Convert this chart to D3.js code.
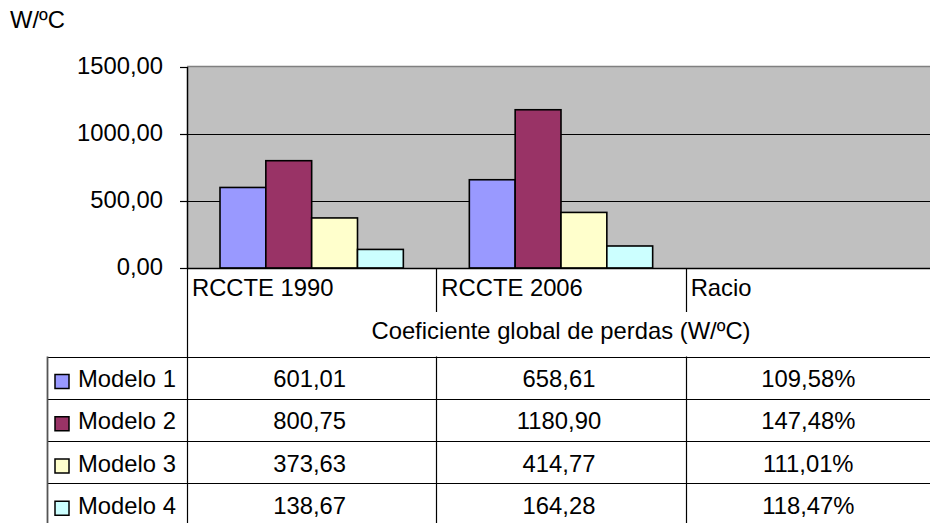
<!DOCTYPE html>
<html>
<head>
<meta charset="utf-8">
<script src="https://cdn.jsdelivr.net/npm/d3@7"></script>
<style>
  body { margin: 0; background: #fff; }
  svg { display: block; font-family: "Liberation Sans", Arial, sans-serif; }
</style>
</head>
<body>
<svg id="chart"></svg>
<script>
// chart data
const categories = ["RCCTE 1990", "RCCTE 2006", "Racio"];
const seriesNames = ["Modelo 1", "Modelo 2", "Modelo 3", "Modelo 4"];
const values1990 = [601.01, 800.75, 373.63, 138.67];
const values2006 = [658.61, 1180.90, 414.77, 164.28];
const ratios = [109.58, 147.48, 111.01, 118.47];
const seriesColors = ["#9999FF", "#993366", "#FFFFCC", "#CCFFFF"];
const yTicks = [0, 500, 1000, 1500];
const unitLabel = "W/ºC";
const tableTitle = "Coeficiente global de perdas (W/ºC)";

const width = 930, height = 523;
const plotLeft = 187, plotRight = 935, plotTop = 67, plotBottom = 268;
const fontSize = 23.8;

const locale = d3.formatLocale({ decimal: ",", thousands: "", grouping: [3], currency: ["", "€"] });
const fmt = locale.format(".2f");

const svg = d3.select("#chart")
  .attr("width", width)
  .attr("height", height)
  .style("font-size", fontSize + "px");

// scales
const x = d3.scaleBand().domain(categories).range([plotLeft, plotRight]);
const xs = d3.scaleBand().domain(seriesNames).range([0, x.bandwidth()]).paddingOuter(0.72);
const y = d3.scaleLinear().domain([0, 1500]).range([plotBottom, plotTop]);
const rows = d3.scaleBand().domain(seriesNames).range([357.5, 526.5]);

// plot area
svg.append("rect")
  .attr("x", plotLeft).attr("y", plotTop)
  .attr("width", plotRight - plotLeft).attr("height", plotBottom - plotTop)
  .attr("fill", "#C0C0C0");
svg.append("line")
  .attr("x1", plotLeft).attr("x2", plotRight)
  .attr("y1", y(1500) - 0.5).attr("y2", y(1500) - 0.5)
  .attr("stroke", "#808080").attr("stroke-width", 1.5);

// gridlines
svg.append("g")
  .selectAll("line")
  .data([500, 1000])
  .join("line")
  .attr("x1", plotLeft).attr("x2", plotRight)
  .attr("y1", d => Math.round(y(d)) + 0.5).attr("y2", d => Math.round(y(d)) + 0.5)
  .attr("stroke", "#000").attr("stroke-width", 1.2);

// bars
const barData = [];
seriesNames.forEach((s, i) => {
  barData.push({ cat: categories[0], s, v: values1990[i], c: seriesColors[i] });
  barData.push({ cat: categories[1], s, v: values2006[i], c: seriesColors[i] });
});
svg.append("g")
  .selectAll("rect")
  .data(barData)
  .join("rect")
  .attr("x", d => x(d.cat) + xs(d.s))
  .attr("y", d => y(d.v))
  .attr("width", xs.bandwidth())
  .attr("height", d => y(0) - y(d.v))
  .attr("fill", d => d.c)
  .attr("stroke", "#000")
  .attr("stroke-width", 1.6);

// y axis
svg.append("g")
  .attr("transform", `translate(${plotLeft},0)`)
  .call(d3.axisLeft(y).tickValues(yTicks).tickFormat(fmt).tickSize(7).tickPadding(17))
  .call(g => g.select(".domain").attr("d", `M0.5,${plotTop}V${plotBottom}`).attr("stroke-width", 1.5))
  .call(g => g.selectAll(".tick line").attr("stroke-width", 1.2))
  .call(g => g.selectAll(".tick text")
    .attr("font-size", fontSize)
    .attr("font-family", "Liberation Sans, Arial, sans-serif")
    .attr("fill", "#000")
    .attr("dy", "0.26em"));

// category axis line
svg.append("line")
  .attr("x1", plotLeft).attr("x2", plotRight)
  .attr("y1", plotBottom + 0.5).attr("y2", plotBottom + 0.5)
  .attr("stroke", "#000").attr("stroke-width", 1.5);

// unit label
svg.append("text")
  .attr("x", 10).attr("y", 27.5)
  .text(unitLabel);

// category labels and separators
svg.append("g")
  .selectAll("text")
  .data(categories)
  .join("text")
  .attr("x", d => x(d) + 5)
  .attr("y", 296)
  .text(d => d);
svg.append("g")
  .selectAll("line")
  .data(categories.slice(1))
  .join("line")
  .attr("x1", d => Math.round(x(d)) + 0.5).attr("x2", d => Math.round(x(d)) + 0.5)
  .attr("y1", plotBottom).attr("y2", 312)
  .attr("stroke", "#000").attr("stroke-width", 1.2);

// table title
svg.append("text")
  .attr("x", (plotLeft + plotRight) / 2)
  .attr("y", 339)
  .attr("text-anchor", "middle")
  .text(tableTitle);

// left vertical line of category block
svg.append("line")
  .attr("x1", plotLeft + 0.5).attr("x2", plotLeft + 0.5)
  .attr("y1", plotBottom).attr("y2", height)
  .attr("stroke", "#000").attr("stroke-width", 1.2);

// table grid
const tableLeft = 47;
svg.append("g")
  .selectAll("line")
  .data(seriesNames)
  .join("line")
  .attr("x1", tableLeft).attr("x2", plotRight)
  .attr("y1", d => Math.round(rows(d)) - 0.5).attr("y2", d => Math.round(rows(d)) - 0.5)
  .attr("stroke", "#000").attr("stroke-width", 1.2);
svg.append("line")
  .attr("x1", tableLeft + 0.5).attr("x2", tableLeft + 0.5)
  .attr("y1", rows(seriesNames[0]) - 1).attr("y2", height)
  .attr("stroke", "#555").attr("stroke-width", 1.8);
svg.append("g")
  .selectAll("line")
  .data(categories.slice(1))
  .join("line")
  .attr("x1", d => Math.round(x(d)) + 0.5).attr("x2", d => Math.round(x(d)) + 0.5)
  .attr("y1", rows(seriesNames[0]) - 1).attr("y2", height)
  .attr("stroke", "#000").attr("stroke-width", 1.2);

// legend keys + names
const rowG = svg.append("g")
  .selectAll("g")
  .data(seriesNames)
  .join("g")
  .attr("transform", d => `translate(0,${rows(d)})`);
rowG.append("rect")
  .attr("x", 55).attr("y", 17)
  .attr("width", 14).attr("height", 14)
  .attr("fill", (d, i) => seriesColors[i])
  .attr("stroke", "#000").attr("stroke-width", 1.5);
rowG.append("text")
  .attr("x", 78).attr("y", 29.5)
  .text(d => d);

// table values
const cellData = [];
seriesNames.forEach((s, i) => {
  cellData.push({ s, cat: categories[0], t: fmt(values1990[i]) });
  cellData.push({ s, cat: categories[1], t: fmt(values2006[i]) });
  cellData.push({ s, cat: categories[2], t: fmt(ratios[i]) + "%" });
});
svg.append("g")
  .selectAll("text")
  .data(cellData)
  .join("text")
  .attr("x", d => x(d.cat) + x.bandwidth() / 2 - 2)
  .attr("y", d => rows(d.s) + 29.5)
  .attr("text-anchor", "middle")
  .text(d => d.t);
</script>
</body>
</html>
